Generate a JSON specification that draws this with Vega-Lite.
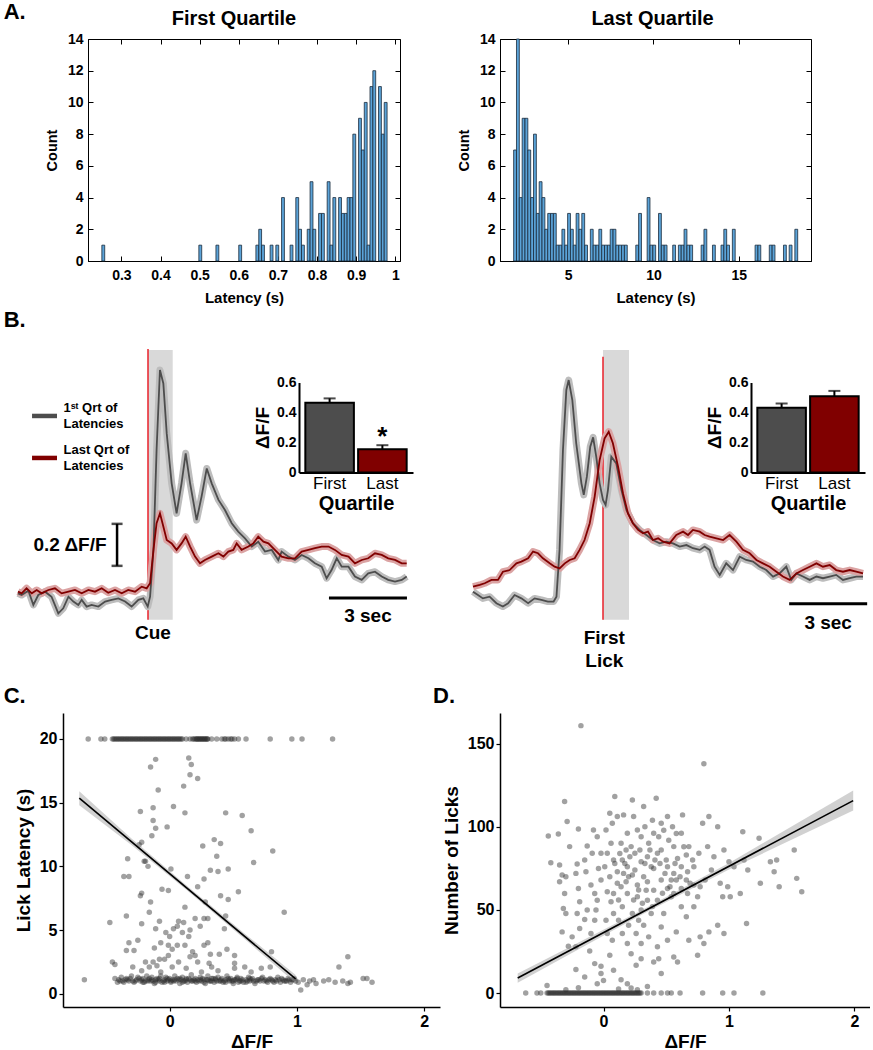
{
"$schema": "https://vega.github.io/schema/vega-lite/v6.json",
"background": "white",
"padding": {"left": 3, "top": 0, "right": 0, "bottom": 0},
"spacing": 0,
"config": {
  "font": "Liberation Sans",
  "view": {"stroke": null},
  "axis": {"labelColor": "#000", "titleColor": "#000", "domainColor": "#000", "tickColor": "#000", "labelFontWeight": "bold", "titleFontWeight": "bold", "grid": false, "labelFont": "Liberation Sans", "titleFont": "Liberation Sans"},
  "title": {"fontWeight": "bold", "color": "#000", "font": "Liberation Sans"}
},
"datasets": {
"trL": [
{"t":-5.0,"v":0.036,"g":"First"},{"t":-4.86,"v":0.028,"g":"First"},{"t":-4.6,"v":0.049,"g":"First"},{"t":-4.41,"v":-0.019,"g":"First"},{"t":-4.22,"v":0.028,"g":"First"},{"t":-3.96,"v":0.044,"g":"First"},{"t":-3.71,"v":0.02,"g":"First"},{"t":-3.45,"v":-0.059,"g":"First"},{"t":-3.26,"v":-0.035,"g":"First"},{"t":-3.06,"v":0.02,"g":"First"},{"t":-2.87,"v":-0.003,"g":"First"},{"t":-2.68,"v":-0.019,"g":"First"},{"t":-2.55,"v":0.005,"g":"First"},{"t":-2.36,"v":-0.027,"g":"First"},{"t":-2.17,"v":-0.019,"g":"First"},{"t":-1.91,"v":-0.027,"g":"First"},{"t":-1.65,"v":-0.003,"g":"First"},{"t":-1.4,"v":0.005,"g":"First"},{"t":-1.14,"v":0.012,"g":"First"},{"t":-0.88,"v":-0.003,"g":"First"},{"t":-0.63,"v":-0.027,"g":"First"},{"t":-0.37,"v":0.005,"g":"First"},{"t":-0.18,"v":0.012,"g":"First"},{"t":-0.01,"v":-0.027,"g":"First"},{"t":0.08,"v":0.02,"g":"First"},{"t":0.21,"v":0.243,"g":"First"},{"t":0.33,"v":0.719,"g":"First"},{"t":0.46,"v":1.1,"g":"First"},{"t":0.59,"v":1.036,"g":"First"},{"t":0.72,"v":0.798,"g":"First"},{"t":0.91,"v":0.56,"g":"First"},{"t":1.1,"v":0.417,"g":"First"},{"t":1.29,"v":0.56,"g":"First"},{"t":1.45,"v":0.703,"g":"First"},{"t":1.62,"v":0.56,"g":"First"},{"t":1.87,"v":0.385,"g":"First"},{"t":2.06,"v":0.497,"g":"First"},{"t":2.26,"v":0.631,"g":"First"},{"t":2.45,"v":0.56,"g":"First"},{"t":2.71,"v":0.481,"g":"First"},{"t":2.96,"v":0.433,"g":"First"},{"t":3.22,"v":0.37,"g":"First"},{"t":3.47,"v":0.33,"g":"First"},{"t":3.73,"v":0.298,"g":"First"},{"t":3.99,"v":0.259,"g":"First"},{"t":4.24,"v":0.282,"g":"First"},{"t":4.5,"v":0.235,"g":"First"},{"t":4.76,"v":0.243,"g":"First"},{"t":5.01,"v":0.195,"g":"First"},{"t":5.14,"v":0.235,"g":"First"},{"t":5.4,"v":0.211,"g":"First"},{"t":5.65,"v":0.195,"g":"First"},{"t":5.91,"v":0.219,"g":"First"},{"t":6.17,"v":0.203,"g":"First"},{"t":6.42,"v":0.179,"g":"First"},{"t":6.68,"v":0.163,"g":"First"},{"t":6.87,"v":0.108,"g":"First"},{"t":7.06,"v":0.147,"g":"First"},{"t":7.26,"v":0.203,"g":"First"},{"t":7.45,"v":0.163,"g":"First"},{"t":7.71,"v":0.163,"g":"First"},{"t":7.96,"v":0.116,"g":"First"},{"t":8.22,"v":0.1,"g":"First"},{"t":8.47,"v":0.131,"g":"First"},{"t":8.73,"v":0.139,"g":"First"},{"t":8.99,"v":0.116,"g":"First"},{"t":9.24,"v":0.1,"g":"First"},{"t":9.5,"v":0.092,"g":"First"},{"t":9.76,"v":0.1,"g":"First"},{"t":9.95,"v":0.116,"g":"First"},
{"t":-5.0,"v":0.044,"g":"Last"},{"t":-4.86,"v":0.036,"g":"Last"},{"t":-4.67,"v":0.06,"g":"Last"},{"t":-4.47,"v":0.036,"g":"Last"},{"t":-4.28,"v":0.052,"g":"Last"},{"t":-4.09,"v":0.036,"g":"Last"},{"t":-3.83,"v":0.052,"g":"Last"},{"t":-3.58,"v":0.06,"g":"Last"},{"t":-3.32,"v":0.036,"g":"Last"},{"t":-3.06,"v":0.044,"g":"Last"},{"t":-2.81,"v":0.052,"g":"Last"},{"t":-2.55,"v":0.036,"g":"Last"},{"t":-2.29,"v":0.052,"g":"Last"},{"t":-2.04,"v":0.044,"g":"Last"},{"t":-1.78,"v":0.06,"g":"Last"},{"t":-1.53,"v":0.039,"g":"Last"},{"t":-1.27,"v":0.052,"g":"Last"},{"t":-1.01,"v":0.036,"g":"Last"},{"t":-0.76,"v":0.052,"g":"Last"},{"t":-0.5,"v":0.044,"g":"Last"},{"t":-0.24,"v":0.068,"g":"Last"},{"t":-0.05,"v":0.06,"g":"Last"},{"t":0.08,"v":0.084,"g":"Last"},{"t":0.21,"v":0.243,"g":"Last"},{"t":0.33,"v":0.37,"g":"Last"},{"t":0.46,"v":0.417,"g":"Last"},{"t":0.59,"v":0.354,"g":"Last"},{"t":0.72,"v":0.29,"g":"Last"},{"t":0.91,"v":0.274,"g":"Last"},{"t":1.1,"v":0.243,"g":"Last"},{"t":1.29,"v":0.274,"g":"Last"},{"t":1.45,"v":0.306,"g":"Last"},{"t":1.62,"v":0.259,"g":"Last"},{"t":1.81,"v":0.211,"g":"Last"},{"t":2.0,"v":0.179,"g":"Last"},{"t":2.19,"v":0.195,"g":"Last"},{"t":2.45,"v":0.211,"g":"Last"},{"t":2.71,"v":0.227,"g":"Last"},{"t":2.9,"v":0.211,"g":"Last"},{"t":3.09,"v":0.235,"g":"Last"},{"t":3.28,"v":0.243,"g":"Last"},{"t":3.41,"v":0.274,"g":"Last"},{"t":3.6,"v":0.243,"g":"Last"},{"t":3.86,"v":0.259,"g":"Last"},{"t":4.05,"v":0.274,"g":"Last"},{"t":4.24,"v":0.306,"g":"Last"},{"t":4.44,"v":0.282,"g":"Last"},{"t":4.63,"v":0.274,"g":"Last"},{"t":4.88,"v":0.243,"g":"Last"},{"t":5.14,"v":0.211,"g":"Last"},{"t":5.4,"v":0.203,"g":"Last"},{"t":5.65,"v":0.203,"g":"Last"},{"t":5.91,"v":0.235,"g":"Last"},{"t":6.17,"v":0.243,"g":"Last"},{"t":6.42,"v":0.251,"g":"Last"},{"t":6.68,"v":0.259,"g":"Last"},{"t":6.94,"v":0.259,"g":"Last"},{"t":7.19,"v":0.243,"g":"Last"},{"t":7.45,"v":0.219,"g":"Last"},{"t":7.71,"v":0.211,"g":"Last"},{"t":7.96,"v":0.179,"g":"Last"},{"t":8.22,"v":0.195,"g":"Last"},{"t":8.47,"v":0.203,"g":"Last"},{"t":8.73,"v":0.227,"g":"Last"},{"t":8.99,"v":0.219,"g":"Last"},{"t":9.24,"v":0.203,"g":"Last"},{"t":9.5,"v":0.195,"g":"Last"},{"t":9.76,"v":0.179,"g":"Last"},{"t":9.95,"v":0.179,"g":"Last"}
],
"trR": [
{"t":-5.0,"v":0.044,"g":"First"},{"t":-4.81,"v":0.028,"g":"First"},{"t":-4.62,"v":0.012,"g":"First"},{"t":-4.36,"v":0.02,"g":"First"},{"t":-4.1,"v":-0.011,"g":"First"},{"t":-3.85,"v":-0.027,"g":"First"},{"t":-3.65,"v":-0.011,"g":"First"},{"t":-3.4,"v":0.028,"g":"First"},{"t":-3.14,"v":0.012,"g":"First"},{"t":-2.88,"v":-0.011,"g":"First"},{"t":-2.63,"v":0.012,"g":"First"},{"t":-2.37,"v":0.005,"g":"First"},{"t":-2.12,"v":-0.003,"g":"First"},{"t":-1.9,"v":-0.003,"g":"First"},{"t":-1.79,"v":0.02,"g":"First"},{"t":-1.67,"v":0.243,"g":"First"},{"t":-1.54,"v":0.719,"g":"First"},{"t":-1.41,"v":1.005,"g":"First"},{"t":-1.32,"v":1.052,"g":"First"},{"t":-1.18,"v":0.957,"g":"First"},{"t":-1.03,"v":0.751,"g":"First"},{"t":-0.83,"v":0.56,"g":"First"},{"t":-0.74,"v":0.505,"g":"First"},{"t":-0.62,"v":0.592,"g":"First"},{"t":-0.49,"v":0.735,"g":"First"},{"t":-0.38,"v":0.779,"g":"First"},{"t":-0.26,"v":0.687,"g":"First"},{"t":-0.13,"v":0.56,"g":"First"},{"t":0.0,"v":0.481,"g":"First"},{"t":0.1,"v":0.457,"g":"First"},{"t":0.19,"v":0.528,"g":"First"},{"t":0.32,"v":0.687,"g":"First"},{"t":0.51,"v":0.655,"g":"First"},{"t":0.71,"v":0.528,"g":"First"},{"t":0.9,"v":0.433,"g":"First"},{"t":1.15,"v":0.37,"g":"First"},{"t":1.41,"v":0.338,"g":"First"},{"t":1.67,"v":0.314,"g":"First"},{"t":1.92,"v":0.29,"g":"First"},{"t":2.18,"v":0.274,"g":"First"},{"t":2.44,"v":0.282,"g":"First"},{"t":2.69,"v":0.274,"g":"First"},{"t":2.95,"v":0.259,"g":"First"},{"t":3.21,"v":0.266,"g":"First"},{"t":3.46,"v":0.251,"g":"First"},{"t":3.72,"v":0.243,"g":"First"},{"t":3.91,"v":0.259,"g":"First"},{"t":4.1,"v":0.243,"g":"First"},{"t":4.29,"v":0.163,"g":"First"},{"t":4.49,"v":0.124,"g":"First"},{"t":4.74,"v":0.179,"g":"First"},{"t":5.0,"v":0.147,"g":"First"},{"t":5.26,"v":0.211,"g":"First"},{"t":5.51,"v":0.195,"g":"First"},{"t":5.77,"v":0.187,"g":"First"},{"t":6.03,"v":0.163,"g":"First"},{"t":6.28,"v":0.147,"g":"First"},{"t":6.54,"v":0.116,"g":"First"},{"t":6.79,"v":0.131,"g":"First"},{"t":7.05,"v":0.163,"g":"First"},{"t":7.24,"v":0.1,"g":"First"},{"t":7.44,"v":0.131,"g":"First"},{"t":7.69,"v":0.116,"g":"First"},{"t":7.95,"v":0.1,"g":"First"},{"t":8.21,"v":0.116,"g":"First"},{"t":8.46,"v":0.108,"g":"First"},{"t":8.72,"v":0.116,"g":"First"},{"t":8.97,"v":0.124,"g":"First"},{"t":9.23,"v":0.1,"g":"First"},{"t":9.49,"v":0.108,"g":"First"},{"t":9.74,"v":0.116,"g":"First"},{"t":10.0,"v":0.116,"g":"First"},
{"t":-5.0,"v":0.068,"g":"Last"},{"t":-4.74,"v":0.076,"g":"Last"},{"t":-4.55,"v":0.084,"g":"Last"},{"t":-4.29,"v":0.1,"g":"Last"},{"t":-4.04,"v":0.1,"g":"Last"},{"t":-3.85,"v":0.139,"g":"Last"},{"t":-3.59,"v":0.147,"g":"Last"},{"t":-3.33,"v":0.179,"g":"Last"},{"t":-3.14,"v":0.187,"g":"Last"},{"t":-2.88,"v":0.203,"g":"Last"},{"t":-2.69,"v":0.235,"g":"Last"},{"t":-2.5,"v":0.227,"g":"Last"},{"t":-2.31,"v":0.203,"g":"Last"},{"t":-2.05,"v":0.179,"g":"Last"},{"t":-1.86,"v":0.163,"g":"Last"},{"t":-1.67,"v":0.155,"g":"Last"},{"t":-1.47,"v":0.179,"g":"Last"},{"t":-1.28,"v":0.195,"g":"Last"},{"t":-1.09,"v":0.203,"g":"Last"},{"t":-0.9,"v":0.243,"g":"Last"},{"t":-0.71,"v":0.29,"g":"Last"},{"t":-0.51,"v":0.37,"g":"Last"},{"t":-0.32,"v":0.497,"g":"Last"},{"t":-0.13,"v":0.671,"g":"Last"},{"t":0.06,"v":0.774,"g":"Last"},{"t":0.22,"v":0.806,"g":"Last"},{"t":0.38,"v":0.751,"g":"Last"},{"t":0.58,"v":0.639,"g":"Last"},{"t":0.77,"v":0.512,"g":"Last"},{"t":0.96,"v":0.417,"g":"Last"},{"t":1.15,"v":0.37,"g":"Last"},{"t":1.35,"v":0.338,"g":"Last"},{"t":1.54,"v":0.322,"g":"Last"},{"t":1.73,"v":0.33,"g":"Last"},{"t":1.92,"v":0.29,"g":"Last"},{"t":2.12,"v":0.298,"g":"Last"},{"t":2.31,"v":0.282,"g":"Last"},{"t":2.56,"v":0.274,"g":"Last"},{"t":2.82,"v":0.314,"g":"Last"},{"t":3.08,"v":0.33,"g":"Last"},{"t":3.27,"v":0.314,"g":"Last"},{"t":3.46,"v":0.338,"g":"Last"},{"t":3.72,"v":0.33,"g":"Last"},{"t":3.91,"v":0.314,"g":"Last"},{"t":4.1,"v":0.306,"g":"Last"},{"t":4.36,"v":0.298,"g":"Last"},{"t":4.62,"v":0.29,"g":"Last"},{"t":4.87,"v":0.314,"g":"Last"},{"t":5.13,"v":0.282,"g":"Last"},{"t":5.38,"v":0.243,"g":"Last"},{"t":5.64,"v":0.227,"g":"Last"},{"t":5.9,"v":0.195,"g":"Last"},{"t":6.15,"v":0.179,"g":"Last"},{"t":6.41,"v":0.163,"g":"Last"},{"t":6.67,"v":0.139,"g":"Last"},{"t":6.92,"v":0.116,"g":"Last"},{"t":7.18,"v":0.1,"g":"Last"},{"t":7.44,"v":0.131,"g":"Last"},{"t":7.69,"v":0.147,"g":"Last"},{"t":7.95,"v":0.163,"g":"Last"},{"t":8.21,"v":0.179,"g":"Last"},{"t":8.46,"v":0.163,"g":"Last"},{"t":8.72,"v":0.171,"g":"Last"},{"t":8.97,"v":0.147,"g":"Last"},{"t":9.23,"v":0.139,"g":"Last"},{"t":9.49,"v":0.147,"g":"Last"},{"t":9.74,"v":0.139,"g":"Last"},{"t":10.0,"v":0.131,"g":"Last"}
],
"ptsC": [
{"x":-0.64,"y":20},{"x":-0.54,"y":20},{"x":-0.51,"y":20},{"x":-0.45,"y":20},{"x":-0.44,"y":20},{"x":-0.43,"y":20},{"x":-0.41,"y":20},{"x":-0.4,"y":20},{"x":-0.38,"y":20},{"x":-0.37,"y":20},{"x":-0.36,"y":20},{"x":-0.34,"y":20},{"x":-0.33,"y":20},{"x":-0.31,"y":20},{"x":-0.3,"y":20},{"x":-0.29,"y":20},{"x":-0.27,"y":20},{"x":-0.26,"y":20},{"x":-0.24,"y":20},{"x":-0.23,"y":20},{"x":-0.22,"y":20},{"x":-0.2,"y":20},{"x":-0.19,"y":20},{"x":-0.17,"y":20},{"x":-0.16,"y":20},{"x":-0.14,"y":20},{"x":-0.13,"y":20},{"x":-0.12,"y":20},{"x":-0.1,"y":20},{"x":-0.09,"y":20},{"x":-0.07,"y":20},{"x":-0.06,"y":20},{"x":-0.04,"y":20},{"x":-0.03,"y":20},{"x":-0.01,"y":20},{"x":0.0,"y":20},{"x":0.02,"y":20},{"x":0.03,"y":20},{"x":0.05,"y":20},{"x":0.06,"y":20},{"x":0.08,"y":20},{"x":0.1,"y":20},{"x":0.13,"y":20},{"x":0.16,"y":20},{"x":0.19,"y":20},{"x":0.2,"y":20},{"x":0.21,"y":20},{"x":0.22,"y":20},{"x":0.23,"y":20},{"x":0.24,"y":20},{"x":0.25,"y":20},{"x":0.26,"y":20},{"x":0.27,"y":20},{"x":0.28,"y":20},{"x":0.29,"y":20},{"x":0.3,"y":20},{"x":0.33,"y":20},{"x":0.37,"y":20},{"x":0.41,"y":20},{"x":0.44,"y":20},{"x":0.46,"y":20},{"x":0.48,"y":20},{"x":0.51,"y":20},{"x":0.54,"y":20},{"x":0.6,"y":20},{"x":0.79,"y":20},{"x":0.96,"y":20},{"x":1.04,"y":20},{"x":1.28,"y":20},
{"x":-0.42,"y":20},{"x":-0.39,"y":20},{"x":-0.35,"y":20},{"x":-0.32,"y":20},{"x":-0.28,"y":20},{"x":-0.25,"y":20},{"x":-0.21,"y":20},{"x":-0.18,"y":20},{"x":-0.15,"y":20},{"x":-0.11,"y":20},{"x":-0.08,"y":20},{"x":-0.05,"y":20},{"x":-0.02,"y":20},{"x":0.01,"y":20},{"x":0.04,"y":20},{"x":0.07,"y":20},{"x":0.09,"y":20},{"x":0.18,"y":20},{"x":0.215,"y":20},{"x":0.235,"y":20},{"x":0.255,"y":20},{"x":0.275,"y":20},{"x":0.295,"y":20},{"x":0.49,"y":20},{"x":0.43,"y":20},
{"x":-0.11,"y":18.4},{"x":-0.15,"y":17.8},{"x":0.15,"y":18.5},{"x":0.17,"y":18.0},{"x":0.16,"y":17.2},{"x":0.22,"y":16.9},{"x":-0.09,"y":16.0},{"x":0.11,"y":16.3},{"x":-0.23,"y":14.3},{"x":-0.13,"y":14.6},{"x":0.03,"y":14.7},{"x":0.12,"y":14.2},{"x":0.44,"y":14.2},{"x":0.57,"y":14.0},{"x":-0.13,"y":13.6},{"x":-0.11,"y":13.0},{"x":-0.02,"y":13.1},{"x":-0.14,"y":12.4},{"x":0.64,"y":12.8},{"x":-0.22,"y":11.9},{"x":-0.24,"y":11.7},{"x":0.26,"y":11.6},{"x":0.35,"y":12.1},{"x":0.4,"y":11.8},{"x":0.81,"y":11.2},{"x":-0.33,"y":10.6},{"x":0.37,"y":10.8},{"x":-0.2,"y":10.4},{"x":-0.19,"y":10.4},{"x":0.66,"y":10.3},{"x":-0.17,"y":10.0},{"x":0.01,"y":9.8},{"x":0.32,"y":9.7},{"x":0.38,"y":9.6},{"x":0.46,"y":9.8},{"x":-0.36,"y":9.2},{"x":-0.32,"y":9.2},{"x":0.14,"y":9.2},{"x":0.27,"y":9.0},{"x":-0.06,"y":8.2},{"x":-0.01,"y":8.1},{"x":0.22,"y":8.4},{"x":0.54,"y":8.0},{"x":0.4,"y":7.7},{"x":-0.22,"y":7.9},{"x":-0.23,"y":7.7},{"x":-0.15,"y":7.2},{"x":0.46,"y":7.4},{"x":0.28,"y":7.2},{"x":0.12,"y":6.8},{"x":-0.16,"y":6.4},{"x":-0.34,"y":6.1},{"x":0.9,"y":6.4},{"x":0.2,"y":5.9},{"x":0.27,"y":5.9},{"x":0.3,"y":5.9},{"x":0.44,"y":6.1},{"x":-0.47,"y":5.6},{"x":-0.08,"y":5.7},{"x":0.07,"y":5.7},{"x":0.11,"y":5.6},{"x":-0.22,"y":5.5},{"x":0.24,"y":5.3},{"x":-0.11,"y":5.1},{"x":0.03,"y":5.1},{"x":0.06,"y":5.3},{"x":0.16,"y":5.0},{"x":0.43,"y":5.1},{"x":-0.03,"y":4.8},{"x":0.0,"y":4.5},{"x":0.1,"y":4.8},{"x":0.15,"y":4.5},{"x":-0.32,"y":4.0},{"x":-0.25,"y":4.2},{"x":-0.07,"y":4.0},{"x":0.3,"y":4.0},{"x":0.27,"y":3.8},{"x":0.45,"y":3.5},{"x":-0.34,"y":3.4},{"x":-0.28,"y":3.4},{"x":-0.12,"y":3.6},{"x":-0.01,"y":3.8},{"x":0.02,"y":3.5},{"x":0.06,"y":3.8},{"x":0.12,"y":3.8},{"x":0.18,"y":3.3},{"x":0.8,"y":3.3},{"x":0.32,"y":3.1},{"x":0.39,"y":3.1},{"x":0.51,"y":3.0},{"x":1.4,"y":2.9},{"x":-0.01,"y":3.0},{"x":-0.04,"y":2.7},{"x":0.16,"y":2.9},{"x":0.2,"y":3.0},{"x":-0.19,"y":2.5},{"x":-0.13,"y":2.5},{"x":-0.08,"y":2.7},{"x":-0.45,"y":2.5},{"x":-0.43,"y":2.3},{"x":0.07,"y":2.5},{"x":0.22,"y":2.5},{"x":0.31,"y":2.4},{"x":0.51,"y":2.4},{"x":1.33,"y":2.1},{"x":-0.29,"y":2.1},{"x":-0.16,"y":2.1},{"x":-0.1,"y":2.2},{"x":0.02,"y":2.1},{"x":0.13,"y":2.0},{"x":0.33,"y":2.1},{"x":0.51,"y":2.0},{"x":0.59,"y":2.1},{"x":0.72,"y":2.0},{"x":0.79,"y":2.1},{"x":-0.22,"y":1.8},{"x":-0.07,"y":1.7},{"x":0.25,"y":1.7},{"x":0.38,"y":1.8},{"x":0.64,"y":1.7},
{"x":-0.4,"y":1.1},{"x":-0.38,"y":1.3},{"x":-0.36,"y":0.9},{"x":-0.34,"y":1.2},{"x":-0.32,"y":1.0},{"x":-0.3,"y":1.4},{"x":-0.28,"y":0.9},{"x":-0.26,"y":1.1},{"x":-0.25,"y":1.3},{"x":-0.23,"y":1.0},{"x":-0.21,"y":1.2},{"x":-0.2,"y":0.9},{"x":-0.18,"y":1.4},{"x":-0.17,"y":1.1},{"x":-0.15,"y":1.0},{"x":-0.14,"y":1.3},{"x":-0.12,"y":0.8},{"x":-0.11,"y":1.1},{"x":-0.1,"y":1.2},{"x":-0.08,"y":1.0},{"x":-0.07,"y":1.4},{"x":-0.06,"y":0.9},{"x":-0.04,"y":1.1},{"x":-0.03,"y":1.3},{"x":-0.02,"y":1.0},{"x":0.0,"y":1.2},{"x":0.01,"y":0.9},{"x":0.02,"y":1.1},{"x":0.04,"y":1.4},{"x":0.05,"y":1.0},{"x":0.06,"y":1.2},{"x":0.08,"y":0.8},{"x":0.09,"y":1.1},{"x":0.1,"y":1.3},{"x":0.12,"y":1.0},{"x":0.13,"y":1.2},{"x":0.14,"y":0.9},{"x":0.16,"y":1.1},{"x":0.17,"y":1.5},{"x":0.18,"y":1.0},{"x":0.2,"y":1.2},{"x":0.21,"y":0.9},{"x":0.22,"y":1.1},{"x":0.24,"y":1.3},{"x":0.25,"y":1.0},{"x":0.26,"y":1.2},{"x":0.28,"y":0.8},{"x":0.29,"y":1.1},{"x":0.3,"y":1.4},{"x":0.32,"y":1.0},{"x":0.33,"y":1.2},{"x":0.35,"y":0.9},{"x":0.36,"y":1.1},{"x":0.38,"y":1.3},{"x":0.39,"y":1.0},{"x":0.41,"y":1.2},{"x":0.42,"y":0.9},{"x":0.44,"y":1.1},{"x":0.45,"y":1.4},{"x":0.47,"y":1.0},{"x":0.48,"y":1.2},{"x":0.5,"y":0.8},{"x":0.51,"y":1.1},{"x":0.53,"y":1.3},{"x":0.55,"y":1.0},{"x":0.56,"y":1.2},{"x":0.58,"y":0.9},{"x":0.6,"y":1.1},{"x":0.62,"y":1.3},{"x":0.63,"y":1.0},{"x":0.65,"y":1.2},{"x":0.67,"y":0.8},{"x":0.69,"y":1.1},{"x":0.71,"y":1.0},{"x":0.73,"y":1.3},{"x":0.75,"y":1.1},{"x":0.77,"y":0.9},{"x":0.79,"y":1.2},{"x":0.81,"y":1.0},{"x":0.83,"y":1.1},{"x":0.85,"y":1.3},{"x":0.87,"y":0.9},{"x":0.89,"y":1.1},{"x":0.91,"y":1.0},{"x":0.93,"y":1.2},{"x":0.95,"y":0.9},{"x":0.97,"y":1.1},{"x":0.99,"y":1.0},
{"x":-0.39,"y":1.0},{"x":-0.35,"y":1.1},{"x":-0.31,"y":1.2},{"x":-0.27,"y":1.0},{"x":-0.22,"y":1.1},{"x":-0.19,"y":1.0},{"x":-0.16,"y":1.2},{"x":-0.13,"y":1.0},{"x":-0.09,"y":1.1},{"x":-0.05,"y":1.0},{"x":-0.01,"y":1.1},{"x":0.03,"y":1.0},{"x":0.07,"y":1.1},{"x":0.11,"y":1.0},{"x":0.15,"y":1.2},{"x":0.19,"y":1.1},{"x":0.23,"y":1.0},{"x":0.27,"y":1.1},{"x":0.31,"y":1.0},{"x":0.34,"y":1.2},{"x":0.37,"y":1.0},{"x":0.4,"y":1.1},{"x":0.43,"y":1.0},{"x":0.46,"y":1.2},{"x":0.49,"y":1.0},{"x":0.52,"y":1.1},{"x":0.54,"y":0.9},{"x":0.57,"y":1.1},{"x":0.61,"y":1.0},{"x":0.64,"y":1.1},{"x":0.68,"y":1.0},{"x":0.72,"y":1.2},{"x":0.76,"y":1.0},{"x":0.8,"y":1.1},{"x":0.84,"y":1.0},{"x":0.88,"y":1.2},{"x":0.92,"y":1.0},{"x":0.96,"y":1.1},
{"x":-0.37,"y":1.0},{"x":-0.33,"y":1.1},{"x":-0.29,"y":1.0},{"x":-0.24,"y":1.2},{"x":-0.21,"y":0.9},{"x":-0.17,"y":1.0},{"x":-0.14,"y":1.1},{"x":-0.11,"y":0.9},{"x":-0.08,"y":1.2},{"x":-0.04,"y":0.9},{"x":-0.02,"y":1.2},{"x":0.01,"y":1.0},{"x":0.04,"y":1.1},{"x":0.08,"y":1.2},{"x":0.1,"y":0.9},{"x":0.13,"y":1.1},{"x":0.17,"y":1.0},{"x":0.2,"y":1.0},{"x":0.24,"y":1.1},{"x":0.27,"y":0.9},{"x":0.3,"y":1.1},{"x":0.33,"y":1.0},{"x":0.36,"y":1.2},{"x":0.4,"y":1.0},{"x":0.44,"y":0.9},{"x":0.47,"y":1.1},{"x":0.5,"y":1.0},{"x":0.53,"y":1.2},{"x":0.56,"y":1.0},{"x":0.6,"y":0.9},{"x":0.63,"y":1.2},{"x":0.66,"y":1.0},{"x":0.7,"y":1.1},{"x":0.74,"y":1.0},{"x":0.78,"y":1.1},{"x":0.82,"y":0.9},{"x":0.86,"y":1.1},{"x":0.9,"y":1.0},{"x":0.94,"y":1.1},{"x":0.98,"y":1.2},
{"x":1.01,"y":0.9},{"x":1.03,"y":0.3},{"x":1.05,"y":1.1},{"x":1.08,"y":0.7},{"x":1.1,"y":1.0},{"x":1.13,"y":1.1},{"x":1.15,"y":0.8},{"x":1.21,"y":1.0},{"x":1.25,"y":1.1},{"x":1.3,"y":0.9},{"x":1.36,"y":1.0},{"x":1.4,"y":0.8},{"x":1.42,"y":0.9},{"x":1.52,"y":1.2},{"x":1.55,"y":1.2},{"x":1.59,"y":0.9},{"x":-0.67,"y":1.1},{"x":-0.43,"y":1.2},{"x":-0.41,"y":0.9}
],
"ptsD": [
{"x":-0.62,"y":0},{"x":-0.53,"y":0},{"x":-0.5,"y":0},{"x":-0.45,"y":0},{"x":-0.43,"y":0},{"x":-0.42,"y":0},{"x":-0.4,"y":0},{"x":-0.39,"y":0},{"x":-0.37,"y":0},{"x":-0.36,"y":0},{"x":-0.34,"y":0},{"x":-0.33,"y":0},{"x":-0.31,"y":0},{"x":-0.3,"y":0},{"x":-0.28,"y":0},{"x":-0.27,"y":0},{"x":-0.25,"y":0},{"x":-0.24,"y":0},{"x":-0.22,"y":0},{"x":-0.21,"y":0},{"x":-0.19,"y":0},{"x":-0.18,"y":0},{"x":-0.16,"y":0},{"x":-0.15,"y":0},{"x":-0.13,"y":0},{"x":-0.12,"y":0},{"x":-0.1,"y":0},{"x":-0.09,"y":0},{"x":-0.07,"y":0},{"x":-0.06,"y":0},{"x":-0.04,"y":0},{"x":-0.03,"y":0},{"x":-0.01,"y":0},{"x":0.0,"y":0},{"x":0.02,"y":0},{"x":0.03,"y":0},{"x":0.05,"y":0},{"x":0.06,"y":0},{"x":0.08,"y":0},{"x":0.09,"y":0},{"x":0.11,"y":0},{"x":0.12,"y":0},{"x":0.14,"y":0},{"x":0.15,"y":0},{"x":0.17,"y":0},{"x":0.18,"y":0},{"x":0.2,"y":0},{"x":0.21,"y":0},{"x":0.23,"y":0},{"x":0.24,"y":0},{"x":0.26,"y":0},{"x":0.27,"y":0},{"x":0.29,"y":0},{"x":0.3,"y":0},{"x":0.35,"y":0},{"x":0.4,"y":0},{"x":0.46,"y":0},{"x":0.51,"y":0},{"x":0.54,"y":0},{"x":0.61,"y":0},{"x":0.79,"y":0},{"x":0.95,"y":0},{"x":1.04,"y":0},{"x":1.27,"y":0},
{"x":-0.44,"y":0},{"x":-0.41,"y":0},{"x":-0.38,"y":0},{"x":-0.35,"y":0},{"x":-0.32,"y":0},{"x":-0.29,"y":0},{"x":-0.26,"y":0},{"x":-0.23,"y":0},{"x":-0.2,"y":0},{"x":-0.17,"y":0},{"x":-0.14,"y":0},{"x":-0.11,"y":0},{"x":-0.08,"y":0},{"x":-0.05,"y":0},{"x":-0.02,"y":0},{"x":0.01,"y":0},{"x":0.04,"y":0},{"x":0.07,"y":0},{"x":0.1,"y":0},{"x":0.13,"y":0},{"x":0.16,"y":0},{"x":0.19,"y":0},{"x":0.22,"y":0},{"x":0.25,"y":0},{"x":0.28,"y":0},
{"x":-0.3,"y":2.0},{"x":-0.2,"y":3.2},{"x":-0.05,"y":5.6},{"x":0.0,"y":7.6},{"x":0.14,"y":8.0},{"x":0.19,"y":5.6},{"x":0.22,"y":3.0},{"x":0.12,"y":2.5},{"x":-0.15,"y":9.7},{"x":0.35,"y":4.0},{"x":0.46,"y":11.7},{"x":-0.45,"y":4.6},{"x":0.08,"y":13.7},{"x":0.27,"y":2.0},
{"x":-0.18,"y":160.9},{"x":0.8,"y":137.9},{"x":-0.31,"y":115.2},{"x":0.09,"y":118.2},{"x":0.23,"y":116.2},{"x":0.32,"y":112.2},{"x":0.42,"y":117.2},{"x":-0.29,"y":103.2},{"x":-0.44,"y":94.5},{"x":-0.36,"y":95.7},{"x":-0.42,"y":78.4},{"x":-0.35,"y":77.0},{"x":-0.33,"y":71.0},{"x":-0.3,"y":70.0},{"x":-0.35,"y":67.0},{"x":-0.31,"y":59.9},{"x":-0.32,"y":50.9},{"x":-0.3,"y":47.9},{"x":-0.33,"y":36.8},{"x":-0.25,"y":33.8},{"x":-0.28,"y":28.2},{"x":-0.22,"y":27.8},{"x":-0.22,"y":14.1},{"x":-0.2,"y":98.7},{"x":-0.27,"y":88.1},{"x":-0.21,"y":77.6},{"x":-0.22,"y":72.0},{"x":-0.2,"y":62.9},{"x":-0.19,"y":54.9},{"x":-0.21,"y":47.9},{"x":-0.15,"y":44.2},{"x":-0.19,"y":38.8},{"x":-0.13,"y":49.9},{"x":-0.1,"y":65.0},{"x":-0.14,"y":73.0},{"x":-0.15,"y":80.0},{"x":-0.13,"y":88.5},{"x":-0.08,"y":98.1},{"x":-0.05,"y":94.1},{"x":-0.09,"y":84.1},{"x":-0.04,"y":75.0},{"x":-0.07,"y":59.9},{"x":-0.06,"y":49.9},{"x":-0.07,"y":43.8},{"x":-0.1,"y":35.8},{"x":-0.11,"y":25.3},{"x":-0.07,"y":17.7},{"x":-0.02,"y":16.1},{"x":-0.02,"y":11.7},{"x":0.02,"y":98.1},{"x":0.03,"y":84.1},{"x":0.05,"y":70.0},{"x":0.03,"y":60.9},{"x":0.06,"y":54.9},{"x":0.02,"y":43.8},{"x":0.08,"y":47.9},{"x":0.07,"y":31.8},{"x":0.05,"y":22.7},{"x":0.11,"y":106.2},{"x":0.16,"y":107.2},{"x":0.14,"y":90.1},{"x":0.18,"y":86.1},{"x":0.22,"y":88.1},{"x":0.25,"y":84.1},{"x":0.15,"y":80.0},{"x":0.19,"y":76.0},{"x":0.11,"y":73.0},{"x":0.23,"y":71.0},{"x":0.14,"y":63.9},{"x":0.19,"y":59.9},{"x":0.27,"y":57.9},{"x":0.15,"y":51.9},{"x":0.23,"y":47.9},{"x":0.3,"y":49.9},{"x":0.2,"y":40.8},{"x":0.26,"y":35.8},{"x":0.19,"y":29.8},{"x":0.3,"y":29.8},{"x":0.22,"y":23.7},{"x":0.3,"y":20.7},{"x":0.26,"y":16.7},{"x":0.3,"y":94.1},{"x":0.33,"y":100.1},{"x":0.36,"y":90.1},{"x":0.4,"y":96.1},{"x":0.44,"y":94.1},{"x":0.46,"y":102.2},{"x":0.51,"y":106.2},{"x":0.55,"y":100.1},{"x":0.35,"y":82.0},{"x":0.43,"y":84.1},{"x":0.5,"y":80.0},{"x":0.56,"y":88.1},{"x":0.62,"y":96.1},{"x":0.63,"y":107.2},{"x":0.68,"y":88.1},{"x":0.4,"y":75.0},{"x":0.32,"y":70.0},{"x":0.46,"y":68.0},{"x":0.56,"y":72.0},{"x":0.62,"y":76.0},{"x":0.67,"y":73.0},{"x":0.72,"y":76.0},{"x":0.76,"y":84.1},{"x":0.79,"y":102.2},{"x":0.84,"y":106.2},{"x":0.91,"y":100.1},{"x":0.83,"y":88.1},{"x":0.88,"y":82.0},{"x":0.96,"y":86.1},{"x":1.0,"y":79.0},{"x":1.04,"y":76.0},{"x":1.11,"y":97.1},{"x":1.12,"y":80.0},{"x":1.24,"y":93.1},{"x":1.15,"y":74.0},{"x":1.25,"y":66.0},{"x":1.33,"y":79.0},{"x":1.36,"y":73.0},{"x":1.38,"y":80.0},{"x":1.4,"y":63.9},{"x":1.52,"y":86.1},{"x":1.54,"y":69.0},{"x":1.58,"y":60.9},{"x":1.14,"y":41.8},{"x":1.09,"y":59.9},{"x":1.01,"y":57.9},{"x":0.99,"y":63.9},{"x":0.93,"y":66.0},{"x":0.95,"y":57.9},{"x":0.96,"y":35.8},{"x":0.91,"y":40.8},{"x":0.84,"y":36.8},{"x":0.8,"y":29.8},{"x":0.77,"y":33.8},{"x":0.75,"y":22.7},{"x":0.68,"y":31.8},{"x":0.66,"y":45.9},{"x":0.62,"y":51.9},{"x":0.58,"y":36.8},{"x":0.54,"y":57.9},{"x":0.48,"y":47.9},{"x":0.51,"y":31.8},{"x":0.46,"y":39.8},{"x":0.43,"y":27.8},{"x":0.4,"y":18.7},{"x":0.44,"y":20.7},{"x":0.56,"y":21.7},{"x":0.59,"y":18.7},{"x":0.36,"y":33.8},{"x":0.38,"y":47.9},{"x":0.34,"y":61.9},{"x":0.08,"y":59.9},{"x":-0.02,"y":68.0},{"x":0.01,"y":76.0},{"x":0.08,"y":80.0},{"x":0.06,"y":90.1},{"x":-0.02,"y":84.1},{"x":-0.05,"y":55.9},{"x":0.12,"y":43.8},{"x":0.15,"y":35.8},{"x":0.03,"y":35.8},{"x":0.32,"y":40.8},{"x":0.28,"y":43.8},{"x":0.35,"y":55.9},{"x":0.4,"y":61.9},{"x":0.51,"y":62.9},{"x":0.56,"y":59.9},{"x":0.58,"y":68.0},{"x":0.66,"y":68.0},{"x":0.72,"y":65.0},{"x":0.75,"y":57.9},{"x":0.77,"y":63.9},{"x":0.81,"y":68.0},{"x":0.86,"y":74.0},{"x":0.72,"y":51.9},{"x":0.67,"y":59.9},{"x":0.62,"y":62.9},{"x":0.51,"y":76.0},{"x":0.46,"y":86.1},{"x":0.38,"y":76.0},{"x":0.3,"y":79.0},{"x":0.27,"y":65.0},{"x":0.18,"y":67.0},{"x":0.11,"y":66.0},{"x":0.19,"y":96.1},{"x":0.27,"y":98.1},{"x":0.07,"y":102.2},{"x":0.05,"y":108.2},{"x":0.24,"y":106.2},{"x":0.16,"y":72.0},{"x":0.35,"y":67.0},{"x":0.43,"y":55.9},{"x":0.66,"y":83.1},{"x":0.59,"y":81.0},{"x":0.54,"y":68.0},
{"x":0.21,"y":82},{"x":0.29,"y":86},{"x":0.17,"y":78},{"x":0.25,"y":74},{"x":0.33,"y":78},{"x":0.41,"y":80},{"x":0.37,"y":86},{"x":0.45,"y":78},{"x":0.49,"y":72},{"x":0.53,"y":64},{"x":0.13,"y":84},{"x":0.09,"y":78},{"x":0.2,"y":70},{"x":0.28,"y":62},{"x":0.24,"y":56},{"x":0.12,"y":56},{"x":0.31,"y":54},{"x":0.39,"y":52},{"x":0.47,"y":60},{"x":0.57,"y":78},{"x":0.61,"y":70},{"x":0.69,"y":66},{"x":0.71,"y":80},{"x":0.64,"y":88},{"x":0.52,"y":92},{"x":0.48,"y":98},{"x":0.39,"y":104},{"x":0.58,"y":96}
]
},
"vconcat": [
{
 "hconcat": [
  {
   "width": 70, "height": 269,
   "title": {"text": "A.", "anchor": "start", "frame": "group", "fontSize": 22, "offset": 15.4, "dx": -14.3},
   "data": {"values": []}, "mark": "point", "encoding": {}
  },
  {
   "width": 312, "height": 222,
   "view": {"stroke": "#000", "strokeWidth": 1},
   "title": {"text": "First Quartile", "fontSize": 20, "offset": 3, "frame": "group", "dx": -10},
   "data": {"values": [
    {"a":0.25,"b":0.2573,"c":1},{"a":0.4979,"b":0.5052,"c":1},{"a":0.5416,"b":0.5489,"c":1},{"a":0.5999,"b":0.6072,"c":1},{"a":0.6437,"b":0.651,"c":1},{"a":0.651,"b":0.6582,"c":2},{"a":0.6582,"b":0.6655,"c":1},{"a":0.6801,"b":0.6874,"c":1},{"a":0.6947,"b":0.702,"c":1},{"a":0.7093,"b":0.7166,"c":4},{"a":0.7311,"b":0.7384,"c":1},{"a":0.7457,"b":0.753,"c":4},{"a":0.753,"b":0.7603,"c":2},{"a":0.7603,"b":0.7676,"c":1},{"a":0.7749,"b":0.7822,"c":2},{"a":0.7822,"b":0.7895,"c":5},{"a":0.7895,"b":0.7967,"c":2},{"a":0.804,"b":0.8113,"c":3},{"a":0.8113,"b":0.8186,"c":3},{"a":0.8259,"b":0.8332,"c":5},{"a":0.8332,"b":0.8405,"c":1},{"a":0.8405,"b":0.8478,"c":4},{"a":0.8551,"b":0.8624,"c":4},{"a":0.8624,"b":0.8697,"c":3},{"a":0.8697,"b":0.8769,"c":3},{"a":0.8769,"b":0.8842,"c":4},{"a":0.8842,"b":0.8915,"c":4},{"a":0.8915,"b":0.8988,"c":8},{"a":0.9061,"b":0.9134,"c":9},{"a":0.9134,"b":0.9207,"c":7},{"a":0.9207,"b":0.928,"c":10},{"a":0.928,"b":0.9353,"c":1},{"a":0.9353,"b":0.9426,"c":11},{"a":0.9426,"b":0.9499,"c":12},{"a":0.9571,"b":0.9644,"c":11},{"a":0.9644,"b":0.9717,"c":8},{"a":0.9717,"b":0.979,"c":10}
   ]},
   "encoding": {
    "x": {"field": "a", "type": "quantitative", "scale": {"domain": [0.2146, 1.012], "nice": false, "zero": false},
          "axis": {"values": [0.3,0.4,0.5,0.6,0.7,0.8,0.9,1], "format": "~g", "title": "Latency (s)", "labelFontSize": 14, "titleFontSize": 15, "tickSize": -5, "labelPadding": 12, "titlePadding": 8}},
    "x2": {"field": "b"},
    "y": {"field": "c", "type": "quantitative", "scale": {"domain": [0, 14], "nice": false},
          "axis": {"values": [0,2,4,6,8,10,12,14], "title": "Count", "labelFontSize": 14, "titleFontSize": 14.5, "tickSize": -5, "labelPadding": 10, "titlePadding": 8}},
    "y2": {"datum": 0}
   },
   "resolve": {"axis": {"x": "independent", "y": "independent"}},
   "layer": [
    {"mark": {"type": "bar", "fill": "#5ba3d8", "stroke": "#1b2b3b", "strokeWidth": 0.8}},
    {"mark": {"type": "bar", "opacity": 0},
     "encoding": {
      "x": {"field": "a", "type": "quantitative", "scale": {"domain": [0.2146, 1.012], "nice": false, "zero": false}, "axis": {"orient": "top", "values": [0.3,0.4,0.5,0.6,0.7,0.8,0.9,1], "labels": false, "title": null, "domain": false, "tickSize": -5}},
      "y": {"field": "c", "type": "quantitative", "scale": {"domain": [0, 14], "nice": false}, "axis": {"orient": "right", "values": [0,2,4,6,8,10,12,14], "labels": false, "title": null, "domain": false, "tickSize": -5}}
     }}
   ]
  },
  {
   "width": 100, "height": 222,
   "data": {"values": []}, "mark": "point", "encoding": {}
  },
  {
   "width": 311, "height": 222,
   "view": {"stroke": "#000", "strokeWidth": 1},
   "title": {"text": "Last Quartile", "fontSize": 20, "offset": 3, "frame": "group", "dx": -3},
   "data": {"values": [
    {"a":1.8,"b":1.967,"c":7},{"a":1.967,"b":2.133,"c":14},{"a":2.133,"b":2.3,"c":4},{"a":2.3,"b":2.466,"c":9},{"a":2.466,"b":2.633,"c":9},{"a":2.633,"b":2.799,"c":7},{"a":2.799,"b":2.966,"c":4},{"a":2.966,"b":3.132,"c":8},{"a":3.132,"b":3.299,"c":3},{"a":3.299,"b":3.465,"c":5},{"a":3.466,"b":3.632,"c":4},{"a":3.633,"b":3.799,"c":2},{"a":3.799,"b":3.966,"c":3},{"a":3.966,"b":4.132,"c":3},{"a":4.132,"b":4.299,"c":3},{"a":4.299,"b":4.466,"c":1},{"a":4.466,"b":4.632,"c":1},{"a":4.632,"b":4.798,"c":2},{"a":4.799,"b":4.965,"c":1},{"a":4.965,"b":5.132,"c":3},{"a":5.132,"b":5.298,"c":2},{"a":5.299,"b":5.465,"c":1},{"a":5.465,"b":5.632,"c":3},{"a":5.632,"b":5.798,"c":2},{"a":5.798,"b":5.965,"c":3},{"a":5.965,"b":6.131,"c":1},{"a":6.298,"b":6.464,"c":2},{"a":6.465,"b":6.631,"c":1},{"a":6.631,"b":6.798,"c":1},{"a":6.798,"b":6.964,"c":2},{"a":6.965,"b":7.131,"c":1},{"a":7.131,"b":7.298,"c":1},{"a":7.298,"b":7.464,"c":1},{"a":7.464,"b":7.631,"c":2},{"a":7.631,"b":7.797,"c":2},{"a":7.798,"b":7.964,"c":1},{"a":7.964,"b":8.131,"c":1},{"a":8.131,"b":8.297,"c":1},{"a":8.297,"b":8.464,"c":1},{"a":8.964,"b":9.13,"c":1},{"a":9.13,"b":9.297,"c":3},{"a":9.63,"b":9.796,"c":4},{"a":9.797,"b":9.963,"c":1},{"a":9.963,"b":10.13,"c":1},{"a":10.297,"b":10.463,"c":3},{"a":10.463,"b":10.63,"c":1},{"a":10.63,"b":10.796,"c":1},{"a":11.13,"b":11.296,"c":1},{"a":11.463,"b":11.629,"c":1},{"a":11.629,"b":11.796,"c":1},{"a":11.796,"b":11.962,"c":2},{"a":11.963,"b":12.129,"c":1},{"a":12.129,"b":12.296,"c":1},{"a":12.796,"b":12.962,"c":1},{"a":12.962,"b":13.129,"c":2},{"a":13.462,"b":13.628,"c":1},{"a":13.962,"b":14.128,"c":1},{"a":14.128,"b":14.295,"c":2},{"a":14.295,"b":14.461,"c":1},{"a":14.628,"b":14.794,"c":2},{"a":15.961,"b":16.127,"c":1},{"a":16.128,"b":16.294,"c":1},{"a":16.794,"b":16.96,"c":1},{"a":16.961,"b":17.127,"c":1},{"a":17.627,"b":17.793,"c":1},{"a":17.96,"b":18.126,"c":1},{"a":18.293,"b":18.46,"c":2}
   ]},
   "encoding": {
    "x": {"field": "a", "type": "quantitative", "scale": {"domain": [1.0, 19.24], "nice": false, "zero": false},
          "axis": {"values": [5,10,15], "title": "Latency (s)", "labelFontSize": 14, "titleFontSize": 15, "tickSize": -5, "labelPadding": 12, "titlePadding": 8}},
    "x2": {"field": "b"},
    "y": {"field": "c", "type": "quantitative", "scale": {"domain": [0, 14], "nice": false},
          "axis": {"values": [0,2,4,6,8,10,12,14], "title": "Count", "labelFontSize": 14, "titleFontSize": 14.5, "tickSize": -5, "labelPadding": 10, "titlePadding": 8}},
    "y2": {"datum": 0}
   },
   "resolve": {"axis": {"x": "independent", "y": "independent"}},
   "layer": [
    {"mark": {"type": "bar", "fill": "#5ba3d8", "stroke": "#1b2b3b", "strokeWidth": 0.8}},
    {"mark": {"type": "bar", "opacity": 0},
     "encoding": {
      "x": {"field": "a", "type": "quantitative", "scale": {"domain": [1.0, 19.24], "nice": false, "zero": false}, "axis": {"orient": "top", "values": [5,10,15], "labels": false, "title": null, "domain": false, "tickSize": -5}},
      "y": {"field": "c", "type": "quantitative", "scale": {"domain": [0, 14], "nice": false}, "axis": {"orient": "right", "values": [0,2,4,6,8,10,12,14], "labels": false, "title": null, "domain": false, "tickSize": -5}}
     }}
   ]
  }
 ],
 "spacing": 0,
 "bounds": "flush"
},
{
 "hconcat": [
  {
   "width": 390, "height": 275,
   "title": {"text": "B.", "anchor": "start", "frame": "group", "fontSize": 22, "offset": 16.4, "dx": -14.3},
   "resolve": {"scale": {"x": "independent", "y": "independent"}},
   "layer": [
    {
     "encoding": {
      "x": {"field": "t", "type": "quantitative", "scale": {"domain": [-5, 10], "nice": false, "zero": false}, "axis": null},
      "y": {"field": "v", "type": "quantitative", "scale": {"domain": [-0.11, 1.2], "nice": false, "zero": false}, "axis": null}
     },
     "layer": [
      {"data": {"values": [{"t": 0, "t2": 0.95, "v": -0.09, "v2": 1.195}]}, "mark": {"type": "rect", "color": "#d9d9d9"}, "encoding": {"x2": {"field": "t2"}, "y2": {"field": "v2"}}},
      {"data": {"values": [{"t": 0, "v": -0.09, "v2": 1.2}]}, "mark": {"type": "rule", "color": "#e8202a", "strokeWidth": 1.5}, "encoding": {"y2": {"field": "v2"}}},
      {"data": {"name": "trL"}, "mark": {"type": "line", "strokeWidth": 7, "strokeJoin": "round"}, "encoding": {"stroke": {"field": "g", "type": "nominal", "scale": {"domain": ["First", "Last"], "range": ["#bdbdbd", "#dba3a3"]}, "legend": null}}},
      {"data": {"name": "trL"}, "mark": {"type": "line", "strokeWidth": 1.8}, "encoding": {"color": {"field": "g", "type": "nominal", "scale": {"domain": ["First", "Last"], "range": ["#4d4d4d", "#800000"]}, "legend": null}}},
      {"data": {"values": [{"t": -4.46, "t2": -3.5, "v": 0.881, "g": "First"}, {"t": -4.46, "t2": -3.5, "v": 0.681, "g": "Last"}]}, "mark": {"type": "rule", "strokeWidth": 4.5}, "encoding": {"x2": {"field": "t2"}, "color": {"field": "g", "type": "nominal", "scale": {"domain": ["First", "Last"], "range": ["#4d4d4d", "#800000"]}, "legend": null}}},
      {"data": {"values": [{"t": -3.25, "v": 0.919, "s": "1ˢᵗ Qrt of"}, {"t": -3.25, "v": 0.843, "s": "Latencies"}, {"t": -3.25, "v": 0.719, "s": "Last Qrt of"}, {"t": -3.25, "v": 0.643, "s": "Latencies"}]},
       "mark": {"type": "text", "fontSize": 13, "fontWeight": "bold", "baseline": "middle", "align": "left", "color": "#000"}, "encoding": {"text": {"field": "s"}}},
      {"data": {"values": [{"t": -1.19, "v": 0.167, "v2": 0.367}]}, "mark": {"type": "rule", "strokeWidth": 2.5, "color": "#000"}, "encoding": {"y2": {"field": "v2"}}},
      {"data": {"values": [{"t": -1.19, "v": 0.167}, {"t": -1.19, "v": 0.367}]}, "mark": {"type": "tick", "orient": "horizontal", "size": 11, "thickness": 2.5, "color": "#000"}, "encoding": {}},
      {"data": {"values": [{"t": 6.96, "t2": 9.96, "v": 0.014}]}, "mark": {"type": "rule", "strokeWidth": 3, "color": "#000"}, "encoding": {"x2": {"field": "t2"}}},
      {"data": {"values": [{"t": -3.0, "v": 0.267, "s": "0.2 ΔF/F"}, {"t": 8.46, "v": -0.071, "s": "3 sec"}, {"t": 0.19, "v": -0.155, "s": "Cue"}]},
       "mark": {"type": "text", "fontSize": 19, "fontWeight": "bold", "baseline": "middle", "align": "center", "color": "#000"}, "encoding": {"text": {"field": "s"}}}
     ]
    },
    {
     "data": {"values": [{"g": "First", "m": 0.465, "e": 0.494}, {"g": "Last", "m": 0.155, "e": 0.182}]},
     "encoding": {
      "x": {"field": "g", "type": "nominal", "scale": {"domain": ["First", "Last"], "range": [281, 395], "paddingInner": 0.08, "paddingOuter": 0.12},
            "axis": {"orient": "bottom", "offset": -151.5, "title": "Quartile", "titleFontSize": 20, "labelFontSize": 17, "labelFontWeight": "normal", "labelAngle": 0, "ticks": false, "domainWidth": 2, "labelPadding": 3, "titlePadding": 2}},
      "y": {"field": "m", "type": "quantitative", "scale": {"domain": [0, 0.6], "range": [123.5, 33.5], "nice": false, "zero": true},
            "axis": {"orient": "left", "offset": -281, "values": [0, 0.2, 0.4, 0.6], "format": "~g", "title": "ΔF/F", "titleFontSize": 19, "labelFontSize": 14, "ticks": false, "domainWidth": 2, "labelPadding": 3, "titlePadding": 4}}
     },
     "layer": [
      {"mark": {"type": "bar", "stroke": "#000", "strokeWidth": 2}, "encoding": {"color": {"field": "g", "type": "nominal", "scale": {"domain": ["First", "Last"], "range": ["#4d4d4d", "#800000"]}, "legend": null}}},
      {"mark": {"type": "rule", "strokeWidth": 2, "color": "#000"}, "encoding": {"y2": {"field": "e"}}},
      {"mark": {"type": "tick", "orient": "horizontal", "size": 12, "thickness": 2, "color": "#000"}, "encoding": {"y": {"field": "e", "type": "quantitative"}}},
      {"data": {"values": [{"g": "Last", "v": 0.235, "s": "*"}]}, "mark": {"type": "text", "fontSize": 26, "fontWeight": "bold", "baseline": "middle", "color": "#000"}, "encoding": {"y": {"field": "v", "type": "quantitative"}, "text": {"field": "s"}}}
     ]
    }
   ]
  },
  {
   "width": 65, "height": 275,
   "data": {"values": []}, "mark": "point", "encoding": {}
  },
  {
   "width": 390, "height": 275,
   "resolve": {"scale": {"x": "independent", "y": "independent"}},
   "layer": [
    {
     "encoding": {
      "x": {"field": "t", "type": "quantitative", "scale": {"domain": [-5, 10], "nice": false, "zero": false}, "axis": null},
      "y": {"field": "v", "type": "quantitative", "scale": {"domain": [-0.11, 1.2], "nice": false, "zero": false}, "axis": null}
     },
     "layer": [
      {"data": {"values": [{"t": 0, "t2": 1.0, "v": -0.09, "v2": 1.195}]}, "mark": {"type": "rect", "color": "#d9d9d9"}, "encoding": {"x2": {"field": "t2"}, "y2": {"field": "v2"}}},
      {"data": {"values": [{"t": 0, "v": -0.09, "v2": 1.163}]}, "mark": {"type": "rule", "color": "#e8202a", "strokeWidth": 1.5}, "encoding": {"y2": {"field": "v2"}}},
      {"data": {"name": "trR"}, "mark": {"type": "line", "strokeWidth": 7, "strokeJoin": "round"}, "encoding": {"stroke": {"field": "g", "type": "nominal", "scale": {"domain": ["First", "Last"], "range": ["#bdbdbd", "#dba3a3"]}, "legend": null}}},
      {"data": {"name": "trR"}, "mark": {"type": "line", "strokeWidth": 1.8}, "encoding": {"color": {"field": "g", "type": "nominal", "scale": {"domain": ["First", "Last"], "range": ["#4d4d4d", "#800000"]}, "legend": null}}},
      {"data": {"values": [{"t": 7.16, "t2": 10.16, "v": -0.014}]}, "mark": {"type": "rule", "strokeWidth": 3, "color": "#000"}, "encoding": {"x2": {"field": "t2"}}},
      {"data": {"values": [{"t": 8.66, "v": -0.105, "s": "3 sec"}, {"t": 0.05, "v": -0.175, "s": "First\nLick"}]},
       "mark": {"type": "text", "fontSize": 19, "fontWeight": "bold", "baseline": "middle", "align": "center", "color": "#000", "lineBreak": "\n", "lineHeight": 23}, "encoding": {"text": {"field": "s"}}}
     ]
    },
    {
     "data": {"values": [{"g": "First", "m": 0.431, "e": 0.46}, {"g": "Last", "m": 0.509, "e": 0.544}]},
     "encoding": {
      "x": {"field": "g", "type": "nominal", "scale": {"domain": ["First", "Last"], "range": [278, 392], "paddingInner": 0.08, "paddingOuter": 0.12},
            "axis": {"orient": "bottom", "offset": -151.5, "title": "Quartile", "titleFontSize": 20, "labelFontSize": 17, "labelFontWeight": "normal", "labelAngle": 0, "ticks": false, "domainWidth": 2, "labelPadding": 3, "titlePadding": 2}},
      "y": {"field": "m", "type": "quantitative", "scale": {"domain": [0, 0.6], "range": [123.5, 33.5], "nice": false, "zero": true},
            "axis": {"orient": "left", "offset": -278, "values": [0, 0.2, 0.4, 0.6], "format": "~g", "title": "ΔF/F", "titleFontSize": 19, "labelFontSize": 14, "ticks": false, "domainWidth": 2, "labelPadding": 3, "titlePadding": 4}}
     },
     "layer": [
      {"mark": {"type": "bar", "stroke": "#000", "strokeWidth": 2}, "encoding": {"color": {"field": "g", "type": "nominal", "scale": {"domain": ["First", "Last"], "range": ["#4d4d4d", "#800000"]}, "legend": null}}},
      {"mark": {"type": "rule", "strokeWidth": 2, "color": "#000"}, "encoding": {"y2": {"field": "e"}}},
      {"mark": {"type": "tick", "orient": "horizontal", "size": 12, "thickness": 2, "color": "#000"}, "encoding": {"y": {"field": "e", "type": "quantitative"}}}
     ]
    }
   ]
  },
  {
   "width": 1, "height": 335,
   "data": {"values": []}, "mark": "point", "encoding": {}
  }
 ],
 "spacing": 0,
 "bounds": "flush"
},
{
 "hconcat": [
  {
   "width": 45, "height": 294,
   "title": {"text": "C.", "anchor": "start", "frame": "group", "fontSize": 22, "offset": 5.4, "dx": -14.3},
   "data": {"values": []}, "mark": "point", "encoding": {}
  },
  {
   "width": 377, "height": 294,
   "encoding": {
    "x": {"field": "x", "type": "quantitative", "scale": {"domain": [-0.838, 2.124], "nice": false, "zero": false},
          "axis": {"values": [0, 1, 2], "title": "ΔF/F", "labelFontSize": 16, "titleFontSize": 19, "tickSize": 4, "domainWidth": 1.5, "tickWidth": 1.2, "labelPadding": 2, "titlePadding": 3}},
    "y": {"field": "y", "type": "quantitative", "scale": {"domain": [-1.04, 22.04], "nice": false, "zero": false},
          "axis": {"values": [0, 5, 10, 15, 20], "title": "Lick Latency (s)", "labelFontSize": 16, "titleFontSize": 19, "tickSize": 4, "domainWidth": 1.5, "tickWidth": 1.2, "labelPadding": 2, "titlePadding": 6}}
   },
   "layer": [
    {"data": {"name": "ptsC"}, "mark": {"type": "circle", "size": 30, "opacity": 0.45, "color": "#2e2e2e"}, "encoding": {}},
    {"data": {"values": [{"x": -0.71, "y": 15.35, "lo": 14.8, "hi": 15.9}, {"x": -0.3, "y": 11.93, "lo": 11.68, "hi": 12.18}, {"x": 0.14, "y": 8.26, "lo": 8.08, "hi": 8.44}, {"x": 0.6, "y": 4.42, "lo": 4.2, "hi": 4.64}, {"x": 0.99, "y": 1.16, "lo": 0.84, "hi": 1.48}]},
     "mark": {"type": "area", "color": "#999999", "opacity": 0.45}, "encoding": {"y": {"field": "lo", "type": "quantitative"}, "y2": {"field": "hi"}}},
    {"data": {"values": [{"x": -0.71, "y": 15.35}, {"x": 0.99, "y": 1.16}]},
     "mark": {"type": "line", "color": "#000", "strokeWidth": 1.6}, "encoding": {}}
   ]
  },
  {
   "width": 60, "height": 294,
   "title": {"text": "D.", "anchor": "start", "frame": "group", "fontSize": 22, "offset": 5.4, "dx": -7},
   "data": {"values": []}, "mark": "point", "encoding": {}
  },
  {
   "width": 370, "height": 294,
   "encoding": {
    "x": {"field": "x", "type": "quantitative", "scale": {"domain": [-0.825, 2.124], "nice": false, "zero": false},
          "axis": {"values": [0, 1, 2], "title": "ΔF/F", "labelFontSize": 16, "titleFontSize": 19, "tickSize": 4, "domainWidth": 1.5, "tickWidth": 1.2, "labelPadding": 2, "titlePadding": 3}},
    "y": {"field": "y", "type": "quantitative", "scale": {"domain": [-8.4, 168.5], "nice": false, "zero": false},
          "axis": {"values": [0, 50, 100, 150], "title": "Number of Licks", "labelFontSize": 16, "titleFontSize": 19, "tickSize": 4, "domainWidth": 1.5, "tickWidth": 1.2, "labelPadding": 2, "titlePadding": 6}}
   },
   "layer": [
    {"data": {"name": "ptsD"}, "mark": {"type": "circle", "size": 30, "opacity": 0.45, "color": "#2e2e2e"}, "encoding": {}},
    {"data": {"values": [{"x": -0.684, "y": 9.0, "lo": 6.2, "hi": 11.8}, {"x": 0.3, "y": 48.3, "lo": 47.0, "hi": 49.6}, {"x": 1.0, "y": 76.3, "lo": 74.3, "hi": 78.3}, {"x": 1.99, "y": 115.8, "lo": 109.8, "hi": 121.8}]},
     "mark": {"type": "area", "color": "#999999", "opacity": 0.45}, "encoding": {"y": {"field": "lo", "type": "quantitative"}, "y2": {"field": "hi"}}},
    {"data": {"values": [{"x": -0.684, "y": 9.0}, {"x": 1.99, "y": 115.8}]},
     "mark": {"type": "line", "color": "#000", "strokeWidth": 1.6}, "encoding": {}}
   ]
  }
 ],
 "spacing": 0,
 "bounds": "flush"
}
]
}
